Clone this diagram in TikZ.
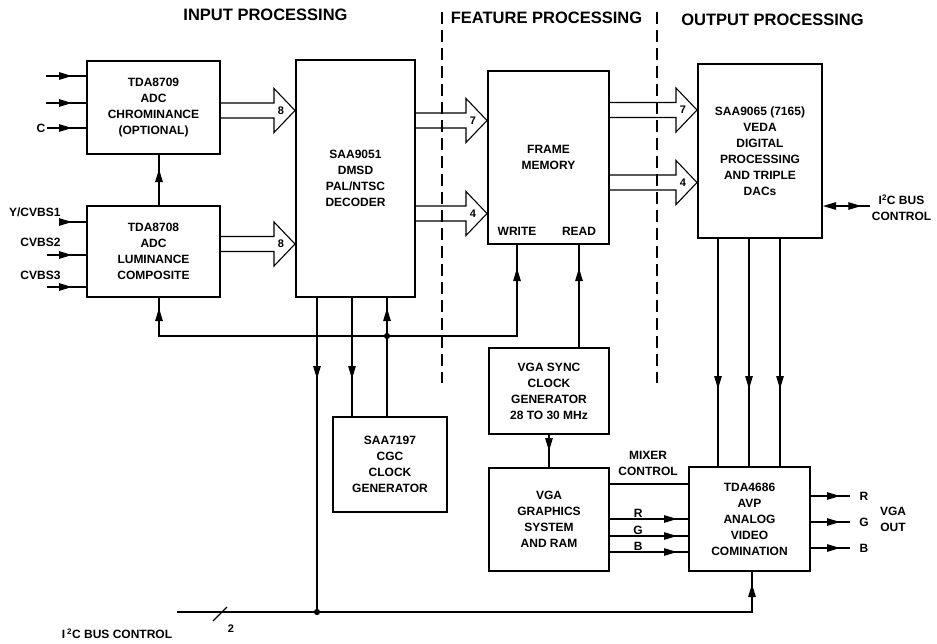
\documentclass[tikz,border=0pt]{standalone}
\usepackage{fontspec}
\setmainfont{Liberation Sans}
\usetikzlibrary{arrows.meta,calc,decorations.markings}
\begin{document}
\begin{tikzpicture}[x=1pt,y=-1pt,line width=1.1pt,
  blk/.style 2 args={draw,line width=2pt,minimum width=#1,minimum height=#2,inner sep=2pt,align=center,font=\bfseries\fontsize{12}{16}\selectfont},
  lbl/.style={inner sep=1pt,align=center,font=\bfseries\fontsize{12}{16}\selectfont},
  hdr/.style={inner sep=1pt,font=\bfseries\fontsize{16.5}{20}\selectfont},
  num/.style={inner sep=0pt,font=\bfseries\fontsize{11}{13}\selectfont},
  arr/.style={postaction={decorate},decoration={markings,mark=at position #1 with {\arrow{Triangle[length=13pt,width=7.5pt]}}}},
  divider/.style={line width=2.2pt,dash pattern=on 12pt off 6pt}]
\useasboundingbox (0,0) rectangle (937,643);

\node[hdr] (hin) at (265.5,15) {INPUT PROCESSING};
\node[hdr] (hfeat) at (546.5,18) {FEATURE PROCESSING};
\node[hdr] (hout) at (772.5,20) {OUTPUT PROCESSING};
\draw[divider] (442,12) -- (442,383);
\draw[divider] (657,12) -- (657,383);

\node[blk={133pt}{93pt}] (tda9) at (153.5,107.5) {TDA8709\\ADC\\CHROMINANCE\\(OPTIONAL)};
\node[blk={133pt}{91pt}] (tda8) at (153.5,251.5) {TDA8708\\ADC\\LUMINANCE\\COMPOSITE};
\node[blk={119pt}{237pt}] (dec) at (355.5,178.5) {SAA9051\\DMSD\\PAL/NTSC\\DECODER};
\node[blk={121pt}{173pt}] (fmem) at (548.5,157.5) {FRAME\\MEMORY};
\node[blk={124pt}{174pt}] (veda) at (760,151) {SAA9065 (7165)\\VEDA\\DIGITAL\\PROCESSING\\AND TRIPLE\\DACs};
\node[blk={114pt}{95pt}] (cgc) at (390,464.5) {SAA7197\\CGC\\CLOCK\\GENERATOR};
\node[blk={120pt}{86pt}] (vsync) at (549,391) {VGA SYNC\\CLOCK\\GENERATOR\\28 TO 30 MHz};
\node[blk={120pt}{103pt}] (vga) at (549,519.5) {VGA\\GRAPHICS\\SYSTEM\\AND RAM};
\node[blk={121pt}{104pt}] (avp) at (749.5,519) {TDA4686\\AVP\\ANALOG\\VIDEO\\COMINATION};
\node[lbl] (wr) at (517,231) {WRITE};
\node[lbl] (rd) at (579,231) {READ};

\coordinate (in1) at (46,76);
\coordinate (in2) at (46,103);
\node[lbl] (cin) at (41,128) {C};
\draw[arr=-14pt] (in1) -- (tda9.west |- in1);
\draw[arr=-14pt] (in2) -- (tda9.west |- in2);
\draw[arr=-14pt] (cin.east) -- (tda9.west |- cin);
\node[lbl,anchor=east] (ycv1) at (62,212) {Y/CVBS1};
\node[lbl,anchor=east] (cv2) at (62,242) {CVBS2};
\node[lbl,anchor=east] (cv3) at (62,275) {CVBS3};
\coordinate (y1) at (62,222);
\coordinate (y2) at (47,255);
\coordinate (y3) at (47,287);
\foreach \c in {y1,y2,y3}
  \draw[arr=-14pt] (\c) -- (tda8.west |- \c);
\draw[arr=-14pt] ([xshift=5.5pt]tda8.north) -- ([xshift=5.5pt]tda9.south);

\foreach \src/\dst/\yy/\bits in {tda9/dec/110.5/8,tda8/dec/244/8,dec/fmem/120.5/7,dec/fmem/213.5/4,fmem/veda/110/7,fmem/veda/182.5/4} {
  \coordinate (a) at (\src.east |- 0,\yy);
  \coordinate (b) at (\dst.west |- 0,\yy);
  \draw ($(a)+(0,-7.5)$) -- ($(b)+(-21,-7.5)$) -- ++(0,-14.5) -- (b) -- ++(-21,22) -- ++(0,-14.5) -- ($(a)+(0,7.5)$);
  \node[num] (\src-\dst-\bits) at ($(b)+(-14,0)$) {\bits};
}

\coordinate (clk) at (387,336);
\draw[arr=-10pt] (cgc.north -| clk) -- (dec.south -| clk);
\draw[arr=-10pt] (clk) -| ([xshift=5.5pt]tda8.south);
\draw[arr=-23pt] (clk) -| (wr |- fmem.south);
\draw[fill] (clk) circle[radius=2.5pt];
\draw[arr=-23pt] (vsync.north -| rd) -- (rd |- fmem.south);

\coordinate (tap) at (317,612);
\coordinate (i2c) at (177,612);
\draw[arr=81pt] (dec.south -| tap) -- (tap);
\draw[arr=81pt] ([xshift=-3.5pt]dec.south) -- ([xshift=-38pt]cgc.north);
\draw[arr=-12pt] (i2c) -| ([xshift=2.5pt]avp.south);
\draw[fill] (tap) circle[radius=2.5pt];
\draw ([shift={(36,9)}]i2c) -- ++(14,-14);
\node[num] (nb) at (231,629) {2};
\node[lbl] (i2clab) at (117,634) {I\,\textsuperscript{2}C BUS CONTROL};

\foreach \x in {718,749,780}
  \draw[arr=150pt] (veda.south -| \x,0) -- (avp.north -| \x,0);
\draw[arr=-16pt] (vsync.south) -- (vga.north);

\node[lbl] (mix) at (648,463) {MIXER\\CONTROL};
\draw (vga.east |- 0,484) -- (avp.west |- 0,484);
\foreach \c/\yy in {R/519,G/536,B/552}
  \draw[arr=-11pt] (vga.east |- 0,\yy) -- node[lbl,above=0pt,pos=0.36] (in\c) {\c} (avp.west |- 0,\yy);

\foreach \c/\yy in {R/496,G/522,B/548} {
  \coordinate (o\c) at (850,\yy);
  \draw[arr=-10pt] (avp.east |- o\c) -- (o\c);
  \node[lbl] (out\c) at (864,\yy) {\c};
}
\node[lbl] (vgaout) at (893,519) {VGA\\OUT};

\node[lbl] (ctl) at (901.5,207.5) {I\textsuperscript{2}C BUS\\CONTROL};
\draw[{Triangle[length=13pt,width=7.5pt]}-,arr=-9pt] (veda.east |- 0,206) -- (ctl.west |- 0,206);
\end{tikzpicture}
\end{document}
